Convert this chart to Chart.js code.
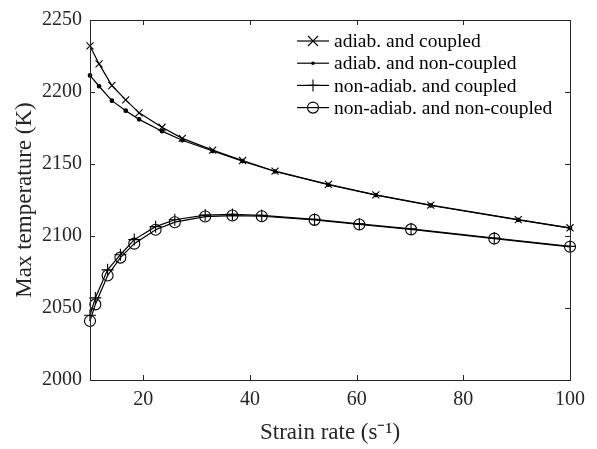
<!DOCTYPE html>
<html lang="en">
<head>
<meta charset="UTF-8">
<title>Max temperature vs strain rate</title>
<script src="https://cdn.jsdelivr.net/npm/chart.js"></script>
<style>
  body { margin: 0; background: #fff; }
  #wrap { width: 597px; height: 449px; }
</style>
</head>
<body>
<div id="wrap"><canvas id="grafico" width="597" height="449"></canvas></div>
<script>
// strain rates (s^-1) for the adiabatic runs and the non-adiabatic runs
var xAdiab = [10, 11.7, 14.1, 16.7, 19.2, 23.5, 27.3, 33, 38.6, 44.7, 54.7, 63.6, 73.9, 90.3, 100];
var xNonAdiab = [10, 11, 13.3, 15.7, 18.3, 22.3, 25.9, 31.6, 36.7, 42.2, 52.1, 60.5, 70.2, 85.8, 100];

// max temperature (K)
var adiabCoupled = [2232, 2219.5, 2204.5, 2194.5, 2185.5, 2175.5, 2167.8, 2159.6, 2152.4, 2145, 2135.8, 2128.6, 2121.4, 2111.4, 2105.7];
var adiabNonCoupled = [2211.5, 2204, 2194, 2187, 2181, 2172.8, 2166.5, 2159, 2152, 2144.8, 2135.6, 2128.4, 2121.2, 2111.2, 2105.5];
var nonAdiabCoupled = [2045, 2057, 2076.5, 2087, 2097.5, 2106.5, 2111.3, 2114.5, 2115, 2114.3, 2111.6, 2108.4, 2105, 2098.6, 2092.8];
var nonAdiabNonCoupled = [2041, 2052.5, 2072.6, 2085, 2094.7, 2104.3, 2109.6, 2113.5, 2114.2, 2113.7, 2111.2, 2108, 2104.6, 2098.2, 2092.5];

var seriesNames = ['adiab. and coupled', 'adiab. and non-coupled', 'non-adiab. and coupled', 'non-adiab. and non-coupled'];
var xTicks = [20, 40, 60, 80, 100];
var yTicks = [2000, 2050, 2100, 2150, 2200, 2250];

var ink = '#000';
var axisInk = '#262626';
var fuente = '"Liberation Serif", "Times New Roman", serif';

function puntos(xs, ys) {
    return xs.map(function (x, i) { return { x: x, y: ys[i] }; });
}

function serie(nombre, xs, ys, estilo, radio) {
    var relleno = estilo === 'circle' && radio < 3 ? ink : 'rgba(0,0,0,0)';
    return {
        label: nombre,
        data: puntos(xs, ys),
        borderColor: ink,
        backgroundColor: relleno,
        borderWidth: 1.2,
        pointStyle: estilo,
        pointRadius: radio,
        pointBorderColor: ink,
        pointBackgroundColor: relleno,
        pointBorderWidth: 1.1,
        tension: 0,
        clip: false
    };
}

// marker drawn by hand for the legend
function marcador(ctx, estilo, r, x, y) {
    ctx.beginPath();
    if (estilo === 'crossRot') {
        ctx.moveTo(x - r, y - r); ctx.lineTo(x + r, y + r);
        ctx.moveTo(x - r, y + r); ctx.lineTo(x + r, y - r);
        ctx.stroke();
    } else if (estilo === 'cross') {
        ctx.moveTo(x - r, y); ctx.lineTo(x + r, y);
        ctx.moveTo(x, y - r); ctx.lineTo(x, y + r);
        ctx.stroke();
    } else {
        ctx.arc(x, y, r, 0, Math.PI * 2);
        if (r < 3) { ctx.fill(); } else { ctx.stroke(); }
    }
}

var marco = {
    id: 'marco',
    afterDatasetsDraw: function (chart) {
        var ctx = chart.ctx;
        var a = chart.chartArea;
        var sx = chart.scales.x, sy = chart.scales.y;
        var t = 5;
        ctx.save();
        ctx.strokeStyle = axisInk;
        ctx.lineWidth = 1;
        ctx.strokeRect(Math.round(a.left) + 0.5, Math.round(a.top) + 0.5, Math.round(a.right - a.left), Math.round(a.bottom - a.top));
        ctx.beginPath();
        xTicks.forEach(function (v) {
            var px = Math.round(sx.getPixelForValue(v)) + 0.5;
            ctx.moveTo(px, a.bottom); ctx.lineTo(px, a.bottom - t);
            ctx.moveTo(px, a.top); ctx.lineTo(px, a.top + t);
        });
        yTicks.forEach(function (v) {
            var py = Math.round(sy.getPixelForValue(v)) + 0.5;
            ctx.moveTo(a.left, py); ctx.lineTo(a.left + t, py);
            ctx.moveTo(a.right, py); ctx.lineTo(a.right - t, py);
        });
        ctx.stroke();

        // legend: line sample with the marker in the middle
        ctx.font = '19.5px ' + fuente;
        ctx.textBaseline = 'middle';
        ctx.textAlign = 'left';
        chart.data.datasets.forEach(function (ds, i) {
            var y = 41 + i * 22.2;
            ctx.strokeStyle = ink;
            ctx.fillStyle = ink;
            ctx.lineWidth = 1.2;
            ctx.beginPath();
            ctx.moveTo(297, y); ctx.lineTo(329, y);
            ctx.stroke();
            ctx.lineWidth = 1.1;
            marcador(ctx, ds.pointStyle, ds.pointRadius, 313, y);
            ctx.fillText(ds.label, 334, y + 1);
        });
        ctx.restore();
    }
};

var ctx = document.getElementById('grafico').getContext('2d');
var grafico = new Chart(ctx, {
    type: 'line',
    data: {
        datasets: [
            serie(seriesNames[0], xAdiab, adiabCoupled, 'crossRot', 5),
            serie(seriesNames[1], xAdiab, adiabNonCoupled, 'circle', 1.8),
            serie(seriesNames[2], xNonAdiab, nonAdiabCoupled, 'cross', 6),
            serie(seriesNames[3], xNonAdiab, nonAdiabNonCoupled, 'circle', 5.5)
        ]
    },
    options: {
        responsive: false,
        animation: false,
        layout: { padding: { top: 15, right: 27, left: 0, bottom: 0 } },
        plugins: { legend: { display: false }, tooltip: { enabled: false } },
        scales: {
            x: {
                type: 'linear',
                min: 10,
                max: 100,
                afterBuildTicks: function (s) { s.ticks = xTicks.map(function (v) { return { value: v }; }); },
                afterFit: function (s) { s.height = 69; },
                grid: { display: false, drawTicks: false },
                border: { display: false },
                ticks: {
                    color: axisInk, padding: 8, maxRotation: 0,
                    font: { family: fuente, size: 20 },
                    callback: function (v) { return String(v); }
                },
                title: {
                    display: true,
                    text: 'Strain rate (s\u207B\u00B9)',
                    color: axisInk,
                    padding: { top: 0, bottom: 2 },
                    font: { family: fuente, size: 23 }
                }
            },
            y: {
                min: 2000,
                max: 2250,
                afterBuildTicks: function (s) { s.ticks = yTicks.map(function (v) { return { value: v }; }); },
                afterFit: function (s) { s.width = 90; },
                grid: { display: false, drawTicks: false },
                border: { display: false },
                ticks: {
                    color: axisInk, padding: 8,
                    font: { family: fuente, size: 20 },
                    callback: function (v) { return String(v); }
                },
                title: {
                    display: true,
                    text: 'Max temperature (K)',
                    color: axisInk,
                    padding: { top: 11, bottom: 0 },
                    font: { family: fuente, size: 23 }
                }
            }
        }
    },
    plugins: [marco]
});
</script>
</body>
</html>
